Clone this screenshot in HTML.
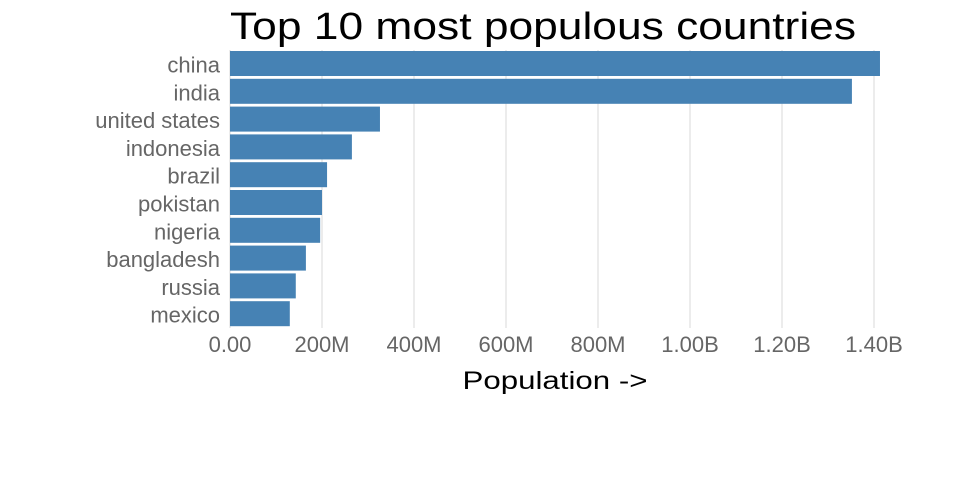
<!DOCTYPE html>
<html><head><meta charset="utf-8"><style>
body{margin:0;background:#fff;}
svg{display:block;font-family:"Liberation Sans","DejaVu Sans",sans-serif;}
</style></head><body>
<svg id="chart" width="960" height="500">
<text x="230" y="39" font-size="38" fill="#000" textLength="626" lengthAdjust="spacingAndGlyphs">Top 10 most populous countries</text>
<g id="grid"></g><g id="bars"></g><g id="ylabels"></g><g id="xlabels"></g>
<text x="555" y="389" font-size="25" text-anchor="middle" fill="#000" textLength="185" lengthAdjust="spacingAndGlyphs">Population -&gt;</text>
</svg>
<script>
const categories=["china","india","united states","indonesia","brazil","pokistan","nigeria","bangladesh","russia","mexico"];
const values=[1413,1352,326,265,211,200,196,165,143,130];
const tickValues=[0,200,400,600,800,1000,1200,1400];
const tickLabels=["0.00","200M","400M","600M","800M","1.00B","1.20B","1.40B"];
const NS="http://www.w3.org/2000/svg";
const x0=230,pxPerM=92/200;
const xs=v=>x0+v*pxPerM;
const barTop=51,step=27.8,bh=25;
function mk(t,a,p){const e=document.createElementNS(NS,t);for(const k in a)e.setAttribute(k,a[k]);document.getElementById(p).appendChild(e);return e;}
tickValues.forEach((v,i)=>{
 const l=mk("line",{x1:xs(v),x2:xs(v),y1:50,y2:328,stroke:"#d9d9d9","stroke-width":1},"grid");
 
 
 const t=mk("text",{x:xs(v),y:352,"font-size":22,fill:"#666","text-anchor":"middle"},"xlabels");
 t.textContent=tickLabels[i];
 
 
});
categories.forEach((c,i)=>{
 const y=barTop+i*step;
 const r=mk("rect",{x:x0,y:y,width:xs(values[i])-x0,height:bh,fill:"#4682b4"},"bars");
 
 
 const t=mk("text",{x:220,y:y+bh/2+9,"font-size":22,fill:"#666","text-anchor":"end"},"ylabels");
 t.textContent=c;
 
 
});
</script>
</body></html>
